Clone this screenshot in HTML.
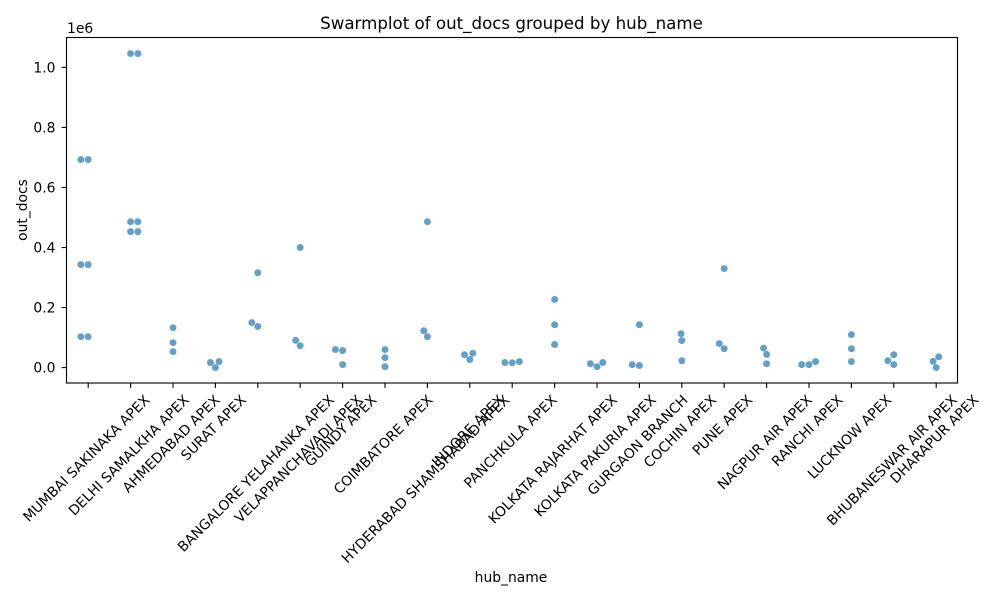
<!DOCTYPE html>
<html lang="en">
<head>
<meta charset="utf-8">
<title>Swarmplot of out_docs grouped by hub_name</title>
<style>
html,body{margin:0;padding:0;background:#fff;}
svg{display:block;}
text{font-family:"DejaVu Sans","Liberation Sans",sans-serif;fill:#000;}
</style>
</head>
<body>
<svg id="chart" width="1000" height="600" viewBox="0 0 1000 600" xmlns="http://www.w3.org/2000/svg">
  <rect x="0" y="0" width="1000" height="600" fill="#ffffff"></rect>
  <text x="511.5" y="29" font-size="16.67" text-anchor="middle">Swarmplot of out_docs grouped by hub_name</text>
  <text x="67" y="33" font-size="13.89">1e6</text>
  <text transform="translate(27,210) rotate(-90)" font-size="13.89" text-anchor="middle">out_docs</text>
  <text x="511" y="582" font-size="13.89" text-anchor="middle">hub_name</text>
  <g id="marks"></g>
  <g id="ticks"></g>
  <rect x="66.5" y="37.5" width="891" height="345.5" fill="none" stroke="#000" stroke-width="1.11"></rect>
</svg>
<script>
const hubNames = [
  "MUMBAI SAKINAKA APEX","DELHI SAMALKHA APEX","AHMEDABAD APEX","SURAT APEX",
  "BANGALORE YELAHANKA APEX","VELAPPANCHAVADI APEX","GUINDY APEX","COIMBATORE APEX",
  "HYDERABAD SHAMSHABAD APEX","INDORE APEX","PANCHKULA APEX","KOLKATA RAJARHAT APEX",
  "KOLKATA PAKURIA APEX","GURGAON BRANCH","COCHIN APEX","PUNE APEX","NAGPUR AIR APEX",
  "RANCHI APEX","LUCKNOW APEX","BHUBANESWAR AIR APEX","DHARAPUR APEX"
];
const outDocs = [
  [103000,103000,343000,343000,693000,693000],
  [453000,453000,486000,486000,1046000,1046000],
  [53000,83000,133000],
  [0,17000,20000],
  [137000,150000,316000],
  [73000,91000,400000],
  [10000,57000,60000],
  [3000,33000,60000],
  [103000,123000,486000],
  [27000,43000,48000],
  [16000,17000,20000],
  [77000,143000,227000],
  [3000,13000,17000],
  [7000,10000,143000],
  [23000,90000,113000],
  [63000,80000,330000],
  [13000,44000,65000],
  [10000,10000,20000],
  [20000,63000,110000],
  [10000,23000,43000],
  [0,21000,36000]
];
const tiePreference = ["left","right","left","left","left","left","left","left","left","left","left","left","left","left","left","left","left","left","left","left","left"];
const yTickValues = [0,200000,400000,600000,800000,1000000];
const yTickLabels = ["0.0","0.2","0.4","0.6","0.8","1.0"];

const SVG_NS = "http://www.w3.org/2000/svg";
const plotLeft = 66.5, plotBottom = 383;
const markerDiameter = 6.94;
const xScale = function (i) {
  return 67 + (i + 0.5) * 42.4;
};
const yScale = function (v) {
  return 367.6 - v * 300.2 / 1000000;
};

function swarm(values, center, side) {
  const sorted = values.slice().sort(function (a, b) { return a - b; });
  const placed = [];
  sorted.forEach(function (v) {
    const y = yScale(v);
    const near = placed.filter(function (p) { return Math.abs(p.y - y) < markerDiameter; });
    const candidates = [center];
    near.forEach(function (p) {
      const dy = y - p.y;
      const dx = Math.sqrt(Math.max(markerDiameter * markerDiameter - dy * dy, 0)) * 1.05;
      if (side === "right") { candidates.push(p.x + dx, p.x - dx); }
      else { candidates.push(p.x - dx, p.x + dx); }
    });
    const order = candidates.map(function (x, k) { return { x: x, k: k }; });
    order.sort(function (a, b) {
      const d = Math.abs(a.x - center) - Math.abs(b.x - center);
      return Math.abs(d) < 1e-6 ? a.k - b.k : d;
    });
    let chosen = center;
    for (let c = 0; c < order.length; c++) {
      const ok = near.every(function (p) {
        const ddx = order[c].x - p.x, ddy = y - p.y;
        return ddx * ddx + ddy * ddy >= markerDiameter * markerDiameter - 1e-6;
      });
      if (ok) { chosen = order[c].x; break; }
    }
    placed.push({ x: chosen, y: y, v: v });
  });
  return placed;
}

const marks = document.getElementById("marks");
const ticks = document.getElementById("ticks");

outDocs.forEach(function (values, i) {
  swarm(values, xScale(i), tiePreference[i]).forEach(function (p) {
    const c = document.createElementNS(SVG_NS, "circle");
    
    
    c.setAttribute("cx", p.x);
    c.setAttribute("cy", p.y);
    c.setAttribute("r", markerDiameter / 2);
    c.setAttribute("fill", "#1f77b4");
    c.setAttribute("fill-opacity", "0.7");
    marks.appendChild(c);
  });
});

yTickValues.forEach(function (v, i) {
  const y = yScale(v);
  const t = document.createElementNS(SVG_NS, "line");
  
  
  t.setAttribute("x1", plotLeft - 4.86);
  t.setAttribute("x2", plotLeft);
  t.setAttribute("y1", y);
  t.setAttribute("y2", y);
  t.setAttribute("stroke", "#000");
  t.setAttribute("stroke-width", "1.11");
  ticks.appendChild(t);
  const l = document.createElementNS(SVG_NS, "text");
  
  
  l.setAttribute("x", 55.5);
  l.setAttribute("y", y + 5);
  l.setAttribute("font-size", "13.89");
  l.setAttribute("text-anchor", "end");
  l.textContent = yTickLabels[i];
  ticks.appendChild(l);
});

hubNames.forEach(function (name, i) {
  const x = xScale(i);
  const t = document.createElementNS(SVG_NS, "line");
  
  
  t.setAttribute("x1", x);
  t.setAttribute("x2", x);
  t.setAttribute("y1", plotBottom);
  t.setAttribute("y2", plotBottom + 4.86);
  t.setAttribute("stroke", "#000");
  t.setAttribute("stroke-width", "1.11");
  ticks.appendChild(t);
  const l = document.createElementNS(SVG_NS, "text");
  
  
  l.setAttribute("font-size", "13.89");
  l.setAttribute("text-anchor", "middle");
  l.textContent = name;
  ticks.appendChild(l);
  const w = l.getComputedTextLength();
  const h = (w + 13) * Math.SQRT1_2;
  const cy = plotBottom + 9.7 + h / 2;
  l.setAttribute("transform", "translate(" + (x - 2) + "," + cy + ") rotate(-45)");
  l.setAttribute("y", 5);
});
</script>
</body>
</html>
